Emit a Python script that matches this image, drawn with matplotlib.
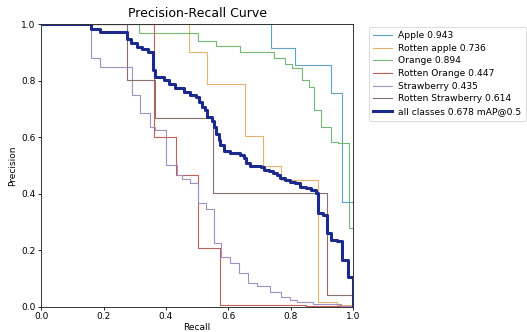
import matplotlib
matplotlib.use("Agg")
import matplotlib.pyplot as plt

# ---- data (recall breakpoints, precision after each breakpoint) ----
apple_r = [0.0, 0.737, 0.813, 0.930, 0.965, 1.0]
apple_p = [1.0, 0.915, 0.856, 0.758, 0.372, 0.372]

rapple_r = [0.0, 0.475, 0.532, 0.652, 0.710, 0.770, 0.887, 0.950, 1.0]
rapple_p = [1.0, 0.903, 0.788, 0.604, 0.500, 0.449, 0.018, 0.008, 0.0]

orange_r = [0.0, 0.315, 0.504, 0.559, 0.639, 0.745, 0.783, 0.805, 0.837,
            0.858, 0.876, 0.896, 0.928, 0.953, 0.987, 1.0]
orange_p = [1.0, 0.968, 0.941, 0.923, 0.901, 0.882, 0.858, 0.844, 0.803,
            0.777, 0.697, 0.637, 0.584, 0.579, 0.279, 0.279]

rorange_r = [0.0, 0.361, 0.433, 0.503, 0.573, 0.85, 1.0]
rorange_p = [1.0, 0.602, 0.466, 0.207, 0.008, 0.004, 0.0]

straw_r = [0.0, 0.161, 0.189, 0.291, 0.316, 0.348, 0.366, 0.400, 0.436, 0.452,
           0.478, 0.503, 0.530, 0.555, 0.578, 0.607, 0.633, 0.663, 0.692,
           0.735, 0.770, 0.799, 0.821, 0.873, 0.960, 1.0]
straw_p = [1.0, 0.880, 0.848, 0.750, 0.685, 0.637, 0.626, 0.502, 0.466, 0.452,
           0.437, 0.366, 0.345, 0.225, 0.177, 0.154, 0.118, 0.083, 0.073,
           0.053, 0.035, 0.024, 0.018, 0.010, 0.004, 0.0]

rstraw_r = [0.0, 0.275, 0.366, 0.551, 0.915, 1.0]
rstraw_p = [1.0, 0.803, 0.668, 0.402, 0.041, 0.041]

all_r = [0.0, 0.159, 0.188, 0.275, 0.287, 0.308, 0.324, 0.344, 0.360, 0.366,
         0.393, 0.409, 0.430, 0.457, 0.478, 0.498, 0.505, 0.516, 0.526, 0.532,
         0.548, 0.553, 0.559, 0.569, 0.575, 0.587, 0.607, 0.623, 0.639, 0.649,
         0.658, 0.668, 0.706, 0.716, 0.729, 0.742, 0.757, 0.767, 0.783, 0.799,
         0.815, 0.831, 0.848, 0.864, 0.880, 0.888, 0.902, 0.915, 0.928, 0.950,
         0.963, 0.984, 1.0]
all_p = [1.0, 0.982, 0.974, 0.946, 0.933, 0.920, 0.911, 0.900, 0.838, 0.813,
         0.801, 0.790, 0.773, 0.761, 0.748, 0.743, 0.725, 0.708, 0.697, 0.673,
         0.658, 0.636, 0.612, 0.590, 0.573, 0.553, 0.545, 0.543, 0.537, 0.526,
         0.508, 0.500, 0.493, 0.484, 0.479, 0.473, 0.466, 0.455, 0.449, 0.443,
         0.437, 0.425, 0.419, 0.415, 0.401, 0.331, 0.325, 0.260, 0.236, 0.233,
         0.165, 0.105, 0.0]

labels = ["Apple 0.943", "Rotten apple 0.736", "Orange 0.894",
          "Rotten Orange 0.447", "Strawberry 0.435", "Rotten Strawberry 0.614"]
all_label = "all classes 0.678 mAP@0.5"
colors = ["#5fa3c6", "#e5b36e", "#74b874", "#c0625a", "#a290c0", "#85706b"]

series = [(apple_r, apple_p), (rapple_r, rapple_p), (orange_r, orange_p),
          (rorange_r, rorange_p), (straw_r, straw_p), (rstraw_r, rstraw_p)]

fig = plt.figure(figsize=(5.27, 3.32), dpi=100)
ax = fig.add_axes([0.078, 0.076, 0.592, 0.851])

for (r, p), lab, c in zip(series, labels, colors):
    ax.plot(r, p, drawstyle="steps-post", lw=0.8, color=c, label=lab)
ax.plot(all_r, all_p, drawstyle="steps-post", lw=2.2, color="#1b2a8c", label=all_label)

ax.set_xlim(0, 1)
ax.set_ylim(0, 1)
ax.set_xticks([0.0, 0.2, 0.4, 0.6, 0.8, 1.0])
ax.set_yticks([0.0, 0.2, 0.4, 0.6, 0.8, 1.0])
ax.tick_params(labelsize=6.5, length=2.5, width=0.6, pad=1.5)
for s in ax.spines.values():
    s.set_linewidth(0.7)
    s.set_color("#333333")
ax.set_xlabel("Recall", fontsize=6.5, labelpad=1)
ax.set_ylabel("Precision", fontsize=6.5, labelpad=3)
ax.set_title("Precision-Recall Curve", fontsize=9, pad=5)

leg = ax.legend(loc="upper left", bbox_to_anchor=(0.70, 0.92),
                bbox_transform=fig.transFigure, fontsize=6.6, frameon=True,
                borderaxespad=0, handlelength=2.0, labelspacing=0.4,
                borderpad=0.5, handletextpad=0.7)
leg.get_frame().set_linewidth(0.6)

fig.savefig("out.png", dpi=100)
